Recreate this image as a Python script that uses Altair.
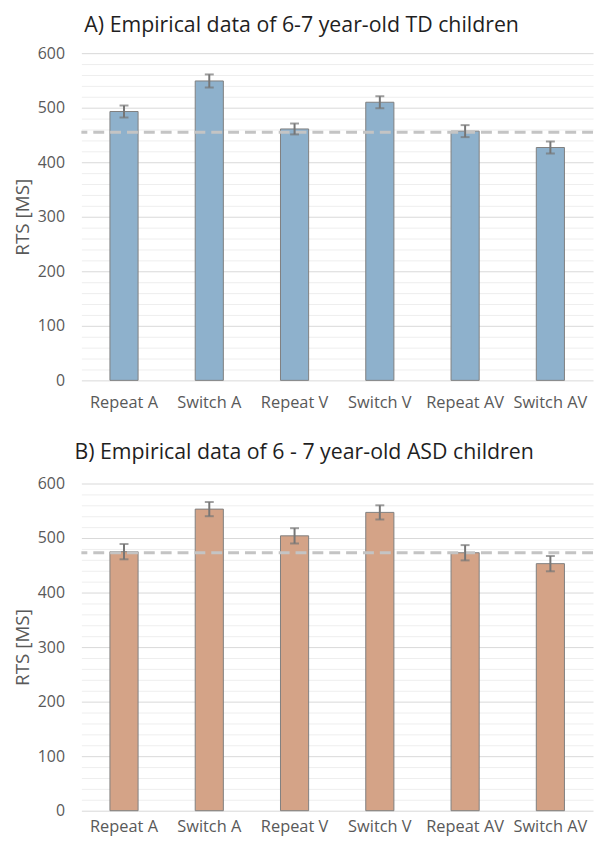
import altair as alt
import pandas as pd

conditions = ["Repeat A", "Switch A", "Repeat V", "Switch V", "Repeat AV", "Switch AV"]
td_rts = [493, 549, 461, 510, 457, 427]
td_err = [11, 12, 10, 11, 11, 11]
td_ref = 455
asd_rts = [475, 553, 504, 547, 473, 453]
asd_err = [14, 13, 14, 13, 14, 14]
asd_ref = 473
titles = ["A) Empirical data of 6-7 year-old TD children",
          "B) Empirical data of 6 - 7 year-old ASD children"]
fills = ["#8eb1cc", "#d4a387"]

FONT = "Open Sans"


def panel(rts, err, ref, title, fill, dx, lab_pad, t_off):
    df = pd.DataFrame({"cond": conditions, "rts": rts, "err": err})
    df["lo"] = df["rts"] - df["err"]
    df["hi"] = df["rts"] + df["err"]
    xenc = alt.X("cond:N", sort=conditions, title=None,
                 scale=alt.Scale(paddingInner=0.67, paddingOuter=0.335),
                 axis=alt.Axis(labelAngle=0, ticks=False, domain=False, labelPadding=lab_pad,
                               labelFontSize=16.5, labelColor="#595959", labelFont=FONT))
    yscale = alt.Scale(domain=[0, 600], nice=False)
    yaxis = alt.Axis(values=list(range(0, 601, 20)), tickCount=40,
                     labelExpr="datum.value % 100 === 0 ? datum.label : ''",
                     labelOverlap=False,
                     gridColor=alt.condition("datum.value % 100 === 0",
                                             alt.value("#d9d9d9"), alt.value("#eeeeee")),
                     gridWidth=1, ticks=False, domain=False, labelPadding=17,
                     labelFontSize=16, labelColor="#595959", labelFont=FONT,
                     title="RTS [MS]", titleFontSize=19, titleFontWeight="normal",
                     titleColor="#595959", titleFont=FONT, titlePadding=5)
    base = alt.Chart(df)
    bars = base.mark_bar(color=fill, stroke="#7f7f7f", strokeWidth=1).encode(
        x=xenc, y=alt.Y("rts:Q", scale=yscale, axis=yaxis))
    ref_df = pd.DataFrame({"ref": [ref]})
    refline = alt.Chart(ref_df).mark_rule(color="#c4c4c4", strokeWidth=3,
                                          strokeDash=[11, 6]).encode(y="ref:Q")
    rule = base.mark_rule(color="#767676", strokeWidth=2).encode(
        x=alt.X("cond:N", sort=conditions), y="lo:Q", y2="hi:Q")
    cap_lo = base.mark_tick(color="#767676", thickness=2, size=9, orient="horizontal").encode(
        x=alt.X("cond:N", sort=conditions), y="lo:Q")
    cap_hi = base.mark_tick(color="#767676", thickness=2, size=9, orient="horizontal").encode(
        x=alt.X("cond:N", sort=conditions), y="hi:Q")
    return alt.layer(bars, refline, rule, cap_lo, cap_hi).properties(
        width=516, height=330,
        title=alt.TitleParams(title, anchor="start", frame="group", fontSize=21.5, font=FONT,
                              fontWeight="normal", color="#1f1f1f", offset=t_off, dx=dx))


top = panel(td_rts, td_err, td_ref, titles[0], fills[0], 3, 14, 9)
bottom = panel(asd_rts, asd_err, asd_ref, titles[1], fills[1], -7, 8, 12)

chart = alt.vconcat(top, bottom, spacing=31).properties(
    padding={"left": 5, "top": 3, "right": 0, "bottom": 0}
).configure_view(stroke=None)

chart.save("out.html", embed_options={"renderer": "svg", "actions": False})
